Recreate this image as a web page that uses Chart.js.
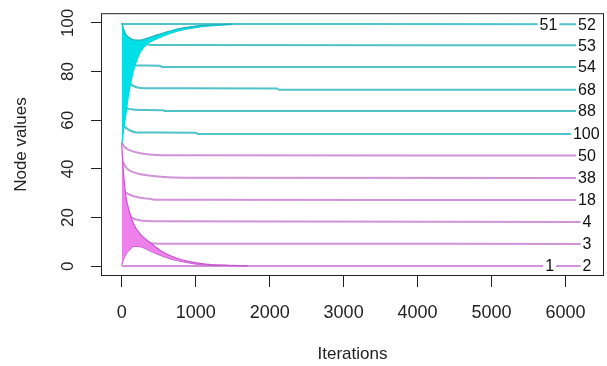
<!DOCTYPE html>
<html>
<head>
<meta charset="utf-8">
<script src="https://cdn.jsdelivr.net/npm/chart.js@4.4.1/dist/chart.umd.min.js"></script>
<style>
  html, body { margin: 0; padding: 0; background: #fff; }
  #wrap { width: 607px; height: 366px; }
</style>
</head>
<body>
<div id="wrap"><canvas id="nodes"></canvas></div>
<script>
// shaded start-up bands (upper / lower envelope of the oscillation)
const cyanIters = [0, 25, 50, 90, 120, 160, 250, 350, 500, 750, 1000, 1200, 1500];
const cyanUpper = [100, 97.5, 95.5, 94.2, 93.6, 93.1, 92.9, 93.8, 95.3, 97.5, 98.7, 99.2, 99.5];
const cyanLower = [50, 56, 61, 70, 75, 80.5, 88, 91.5, 93.8, 96.6, 98.1, 98.8, 99.4];

const magentaIters = [0, 20, 40, 60, 90, 160, 250, 385, 520, 745, 970, 1200, 1450, 1700];
const magentaUpper = [50, 40, 33, 28, 24, 17.5, 13.2, 9.7, 6.5, 3.3, 1.6, 0.7, 0.4, 0.2];
const magentaLower = [0.5, 2.5, 4, 5.2, 6.3, 8.2, 8.1, 6.3, 4.6, 2.4, 1.1, 0.5, 0.3, 0.2];

// node trajectories [iteration, value]
const node52 = [[0, 99.6], [6250, 99.5]];
const node53 = [[300, 91.5], [425, 90.9], [6250, 90.8]];
const node54 = [[150, 83], [205, 82.5], [520, 82.4], [540, 81.9], [6250, 81.9]];
const node68 = [[100, 75], [200, 73.6], [300, 73.2], [2100, 73.1], [2130, 72.5], [6250, 72.5]];
const node88 = [[30, 67], [60, 65.3], [130, 64.5], [250, 64.2], [560, 64.1], [580, 63.8], [6250, 63.8]];
const node100 = [[30, 57.5], [100, 56], [205, 55], [1000, 54.9], [1030, 54.4], [6250, 54.4]];

const node50 = [[0, 51], [40, 49], [115, 47.6], [290, 46.2], [540, 45.6], [6250, 45.5]];
const node38 = [[15, 43], [60, 40.5], [155, 38.7], [340, 37.4], [830, 36.4], [6250, 36.3]];
const node18 = [[20, 31], [100, 29.5], [200, 28.5], [350, 27.8], [520, 27.3], [6250, 27.2]];
const node4 = [[60, 24], [120, 20.5], [200, 19.2], [400, 18.5], [6250, 18.2]];
const node3 = [[300, 9.8], [500, 9.3], [6250, 9.2]];
const node2 = [[0, 0.1], [6250, 0.1]];

const cyanNodes = [node52, node53, node54, node68, node88, node100];
const magentaNodes = [node50, node38, node18, node4, node3, node2];

// end labels
const labelTexts = ['51', '52', '53', '54', '68', '88', '100', '50', '38', '18', '4', '3', '1', '2'];
const labelIters = [5770, 6290, 6290, 6290, 6290, 6290, 6280, 6290, 6290, 6290, 6290, 6290, 5785, 6290];
const labelValues = [99.5, 99.5, 90.8, 81.9, 72.5, 63.8, 54.4, 45.5, 36.3, 27.2, 18.2, 9.2, 0.1, 0.1];

const xTicks = [0, 1000, 2000, 3000, 4000, 5000, 6000];
const yTicks = [0, 20, 40, 60, 80, 100];

const FONT = '"Liberation Sans", Arial, sans-serif';

const toPoints = (pairs) => pairs.map(([x, y]) => ({ x, y }));
const zipPoints = (xs, ys) => xs.map((x, i) => ({ x, y: ys[i] }));

const nodeLine = (pairs, color) => ({
  data: toPoints(pairs),
  borderColor: color,
  borderWidth: 2,
  pointRadius: 0,
  fill: false,
  cubicInterpolationMode: 'monotone',
  order: 2,
});

const band = (xs, ys, fillColor, edgeColor, fillTo) => ({
  data: zipPoints(xs, ys),
  borderColor: edgeColor,
  borderWidth: 1.2,
  backgroundColor: fillColor,
  pointRadius: 0,
  fill: fillTo,
  cubicInterpolationMode: 'monotone',
  order: 1,
});

const decorations = {
  id: 'decorations',
  afterDatasetsDraw(chart) {
    const { ctx, chartArea: a, scales: { x, y } } = chart;
    ctx.save();
    ctx.font = '16px ' + FONT;
    ctx.textAlign = 'center';
    ctx.textBaseline = 'middle';
    labelTexts.forEach((t, i) => {
      const px = x.getPixelForValue(labelIters[i]);
      const py = y.getPixelForValue(labelValues[i]);
      const w = ctx.measureText(t).width;
      ctx.fillStyle = '#fff';
      ctx.fillRect(px - w / 2 - 2, py - 5, w + 4, 10);
      ctx.fillStyle = '#111';
      ctx.fillText(t, px, py + 1);
    });

    ctx.strokeStyle = '#222';
    ctx.lineWidth = 1;
    ctx.strokeRect(a.left + 0.5, a.top + 0.5, a.right - a.left - 1, a.bottom - a.top - 1);

    // R style rotated y tick labels
    ctx.font = '17px ' + FONT;
    ctx.fillStyle = '#222';
    y.ticks.forEach((tk) => {
      const py = y.getPixelForValue(tk.value);
      ctx.save();
      ctx.translate(a.left - 34, py);
      ctx.rotate(-Math.PI / 2);
      ctx.fillText(String(tk.value), 0, 1);
      ctx.restore();
    });
    ctx.restore();
  },
};

new Chart(document.getElementById('nodes'), {
  type: 'line',
  data: {
    datasets: [
      band(cyanIters, cyanUpper, '#00dfe6', '#1fb0b8', '+1'),
      band(cyanIters, cyanLower, '#00dfe6', '#20c6ce', false),
      band(magentaIters, magentaUpper, '#ee80ec', '#c458cc', '+1'),
      band(magentaIters, magentaLower, '#ee80ec', '#c458cc', false),
      ...cyanNodes.map((n) => nodeLine(n, '#4fc2ca')),
      ...magentaNodes.map((n) => nodeLine(n, '#d193d8')),
    ],
  },
  options: {
    responsive: true,
    maintainAspectRatio: false,
    animation: false,
    layout: { padding: { top: 12, right: 3, bottom: 0, left: 0 } },
    plugins: {
      legend: { display: false },
      tooltip: { enabled: false },
    },
    scales: {
      x: {
        type: 'linear',
        min: -280,
        max: 6520,
        afterFit: (s) => { s.height = 90; },
        afterBuildTicks: (s) => { s.ticks = xTicks.map((v) => ({ value: v })); },
        ticks: {
          includeBounds: false,
          maxRotation: 0,
          padding: 15,
          color: '#222',
          font: { family: FONT, size: 18 },
          callback: (v) => String(v),
        },
        grid: { drawOnChartArea: false, drawTicks: true, tickLength: 11, color: '#222' },
        border: { display: false },
        title: {
          display: true,
          text: 'Iterations',
          color: '#222',
          font: { family: FONT, size: 17 },
          padding: { top: 0, bottom: 1 },
        },
      },
      y: {
        type: 'linear',
        min: -4,
        max: 104,
        afterFit: (s) => { s.width = 101; },
        afterBuildTicks: (s) => { s.ticks = yTicks.map((v) => ({ value: v })); },
        ticks: { includeBounds: false, color: 'transparent', font: { family: FONT, size: 17 } },
        grid: { drawOnChartArea: false, drawTicks: true, tickLength: 10, color: '#222' },
        border: { display: false },
        title: {
          display: true,
          text: 'Node values',
          color: '#222',
          font: { family: FONT, size: 17 },
          padding: { top: 11, bottom: 0 },
        },
      },
    },
  },
  plugins: [decorations],
});
</script>
</body>
</html>
